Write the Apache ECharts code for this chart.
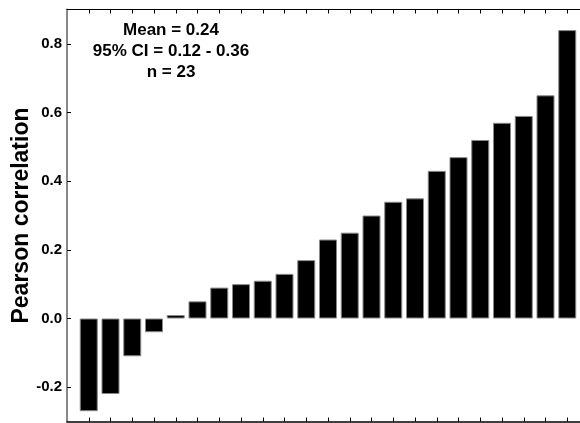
<!DOCTYPE html>
<html>
<head>
<meta charset="utf-8">
<script src="https://cdn.jsdelivr.net/npm/echarts@6/dist/echarts.min.js"></script>
<style>
  html, body { margin: 0; padding: 0; background: #fff; }
  #main { width: 580px; height: 423px; }
</style>
</head>
<body>
<div id="main"></div>
<script>
// study index (sorted by correlation) and Pearson r per study
var studies = [1, 2, 3, 4, 5, 6, 7, 8, 9, 10, 11, 12, 13, 14, 15, 16, 17, 18, 19, 20, 21, 22, 23];
var correlations = [-0.27, -0.22, -0.11, -0.04, 0.01, 0.05, 0.09, 0.10, 0.11, 0.13, 0.17, 0.23,
    0.25, 0.30, 0.34, 0.35, 0.43, 0.47, 0.52, 0.57, 0.59, 0.65, 0.84];
var yTicks = [-0.2, 0, 0.2, 0.4, 0.6, 0.8];
var summaryLines = ['Mean = 0.24', '95% CI = 0.12 - 0.36', 'n = 23'];

var FONT = '"Liberation Sans", Arial, sans-serif';

var barData = studies.map(function (s, i) {
    return [s, correlations[i]];
});

var xAxisBase = {
    type: 'value',
    min: 0,
    max: 24,
    axisLine: { show: true, onZero: false, lineStyle: { color: '#000', width: 1.5 } },
    axisTick: { show: true, inside: true, length: 4, customValues: studies, lineStyle: { color: '#000' } },
    axisLabel: { show: false },
    splitLine: { show: false }
};

var myChart = echarts.init(document.getElementById('main'));
myChart.setOption({
    animation: false,
    title: {
        text: summaryLines.join('\n'),
        left: 171,
        top: 20,
        padding: 0,
        textAlign: 'center',
        textStyle: { fontFamily: FONT, fontSize: 17, fontWeight: 'bold', color: '#000', lineHeight: 21 }
    },
    grid: { left: 67, top: 9.5, width: 522, height: 412, outerBoundsMode: 'none' },
    xAxis: [
        Object.assign({}, xAxisBase, { position: 'bottom' }),
        Object.assign({}, xAxisBase, {
            position: 'top',
            axisLine: { show: true, onZero: false, lineStyle: { color: '#000', width: 1 } }
        })
    ],
    yAxis: {
        type: 'value',
        min: -0.3,
        max: 0.9,
        name: 'Pearson correlation',
        nameLocation: 'middle',
        nameGap: 34,
        nameMoveOverlap: false,
        nameTextStyle: { fontFamily: FONT, fontSize: 23, fontWeight: 'bold', color: '#000' },
        axisLine: { show: true, onZero: false, lineStyle: { color: '#888', width: 2 } },
        axisTick: { show: true, inside: true, length: 4, customValues: yTicks, lineStyle: { color: '#000' } },
        axisLabel: {
            customValues: yTicks,
            margin: 5,
            fontFamily: FONT,
            fontSize: 15,
            fontWeight: 'bold',
            color: '#000',
            formatter: function (v) { return v.toFixed(1); }
        },
        splitLine: { show: false }
    },
    series: [{
        type: 'bar',
        xAxisIndex: 0,
        data: barData,
        barWidth: 18,
        itemStyle: { color: '#000', borderColor: '#888', borderWidth: 1 }
    }]
});
</script>
</body>
</html>
